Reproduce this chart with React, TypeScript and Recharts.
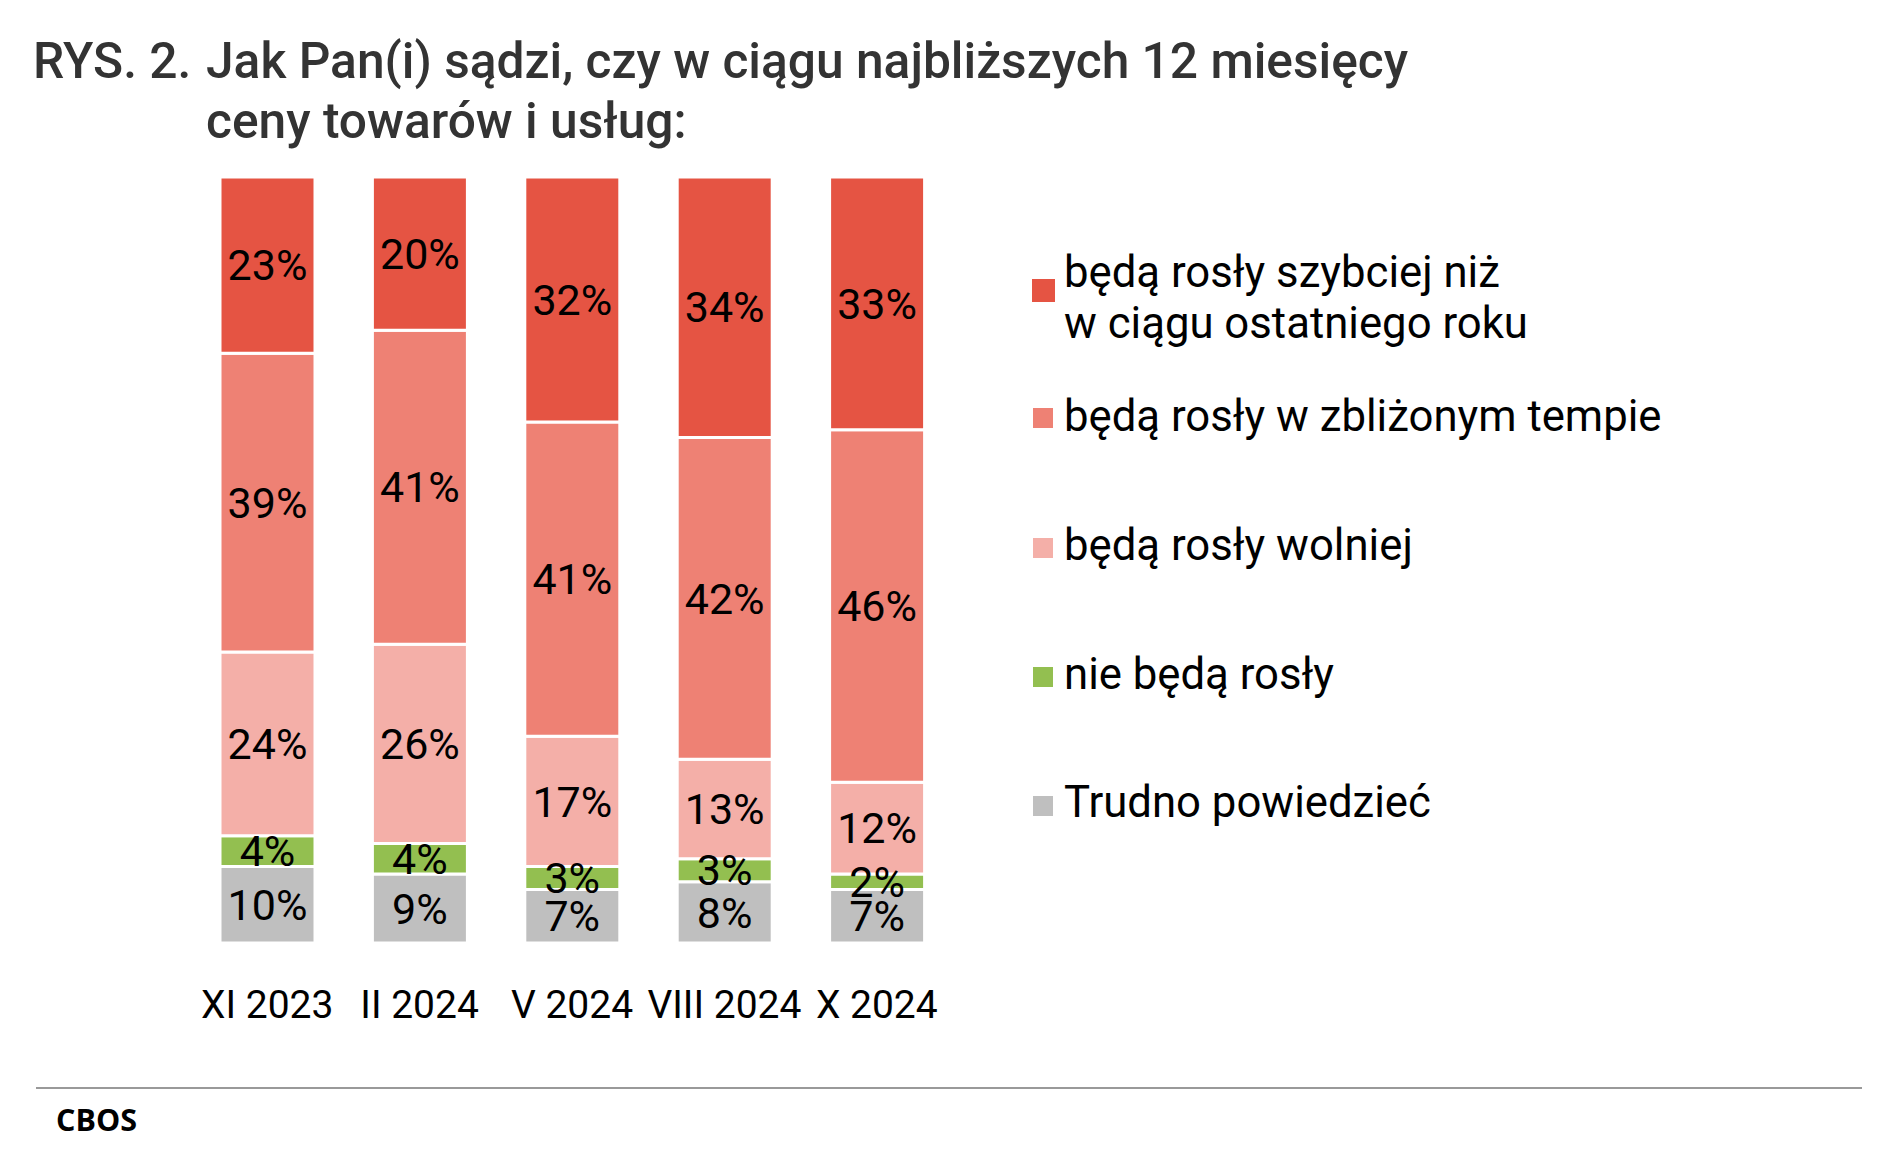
import React from "react";
import { BarChart, Bar, XAxis, YAxis, LabelList } from "recharts";

const categories = ["XI 2023", "II 2024", "V 2024", "VIII 2024", "X 2024"];
const fasterValues = [23, 20, 32, 34, 33];
const similarValues = [39, 41, 41, 42, 46];
const slowerValues = [24, 26, 17, 13, 12];
const notRiseValues = [4, 4, 3, 3, 2];
const hardToSayValues = [10, 9, 7, 8, 7];

// legend order (top to bottom)
const series = [
  { key: "faster", lines: ["będą rosły szybciej niż", "w ciągu ostatniego roku"], color: "#E55443" },
  { key: "similar", lines: ["będą rosły w zbliżonym tempie"], color: "#EE8174" },
  { key: "slower", lines: ["będą rosły wolniej"], color: "#F4AFA8" },
  { key: "notRise", lines: ["nie będą rosły"], color: "#93BF50" },
  { key: "hardToSay", lines: ["Trudno powiedzieć"], color: "#BFBFBF" },
];

const data = categories.map((name, i) => ({
  name,
  faster: fasterValues[i],
  similar: similarValues[i],
  slower: slowerValues[i],
  notRise: notRiseValues[i],
  hardToSay: hardToSayValues[i],
}));

// stacking order, bottom first
const stackOrder = ["hardToSay", "notRise", "slower", "similar", "faster"];

const legendBaselines = [287, 431, 560, 689, 817];
const squareCenters = [290, 418, 548, 677, 806];

const font = "Roboto, 'Noto Sans', sans-serif";

function AxisTick(props: any) {
  const { x, y, payload } = props;
  return (
    <text x={x} y={y + 75} textAnchor="middle" fontSize={39} fontFamily={font} fill="#000">
      {payload.value}
    </text>
  );
}

export default function App() {
  return (
    <div
      style={{
        position: "absolute",
        left: 0,
        top: 0,
        width: 1891,
        height: 1149,
        background: "#fff",
        fontFamily: font,
        overflow: "hidden",
      }}
    >
      <div style={{ position: "absolute", left: 33, top: 31, fontSize: 49.7, lineHeight: "60px", fontWeight: 500, color: "#333", whiteSpace: "nowrap" }}>
        RYS. 2.
      </div>
      <div style={{ position: "absolute", left: 206, top: 31, fontSize: 49.7, lineHeight: "60px", fontWeight: 500, color: "#333", whiteSpace: "nowrap" }}>
        Jak Pan(i) sądzi, czy w ciągu najbliższych 12 miesięcy
        <br />
        ceny towarów i usług:
      </div>

      <div style={{ position: "absolute", left: 0, top: 0 }}>
        <BarChart
          width={1891}
          height={1149}
          data={data}
          margin={{ top: 177, right: 938, bottom: 146, left: 191 }}
        >
          <XAxis
            dataKey="name"
            height={60}
            axisLine={false}
            tickLine={false}
            tickSize={0}
            tickMargin={0}
            interval={0}
            tick={<AxisTick />}
          />
          <YAxis hide domain={[0, 100]} />
          {stackOrder.map((key) => {
            const s = series.find((it) => it.key === key)!;
            return (
              <Bar
                key={key}
                dataKey={key}
                stackId="a"
                fill={s.color}
                stroke="#fff"
                strokeWidth={3}
                barSize={95}
                isAnimationActive={false}
              >
                <LabelList
                  dataKey={key}
                  position="center"
                  formatter={(v: any) => `${v}%`}
                  fill="#000"
                  fontSize={43}
                  fontFamily={font}
                />
              </Bar>
            );
          })}
        </BarChart>
      </div>

      {series.map((s, i) => (
        <React.Fragment key={s.key}>
          <div
            style={{
              position: "absolute",
              left: i === 0 ? 1032 : 1033,
              top: squareCenters[i] - (i === 0 ? 11.5 : 10),
              width: i === 0 ? 23 : 20,
              height: i === 0 ? 23 : 20,
              background: s.color,
            }}
          />
          <div
            style={{
              position: "absolute",
              left: 1064,
              top: legendBaselines[i] - 40.3,
              fontSize: 43.7,
              lineHeight: "51px",
              color: "#000",
              whiteSpace: "nowrap",
            }}
          >
            {s.lines.map((l, j) => (
              <div key={j}>{l}</div>
            ))}
          </div>
        </React.Fragment>
      ))}

      <div style={{ position: "absolute", left: 36, top: 1087, width: 1826, height: 2, background: "#999" }} />
      <div
        style={{
          position: "absolute",
          left: 56,
          top: 1099,
          fontFamily: "'Open Sans', sans-serif",
          fontWeight: 700,
          fontSize: 30.5,
          lineHeight: "40px",
          color: "#000",
        }}
      >
        CBOS
      </div>
    </div>
  );
}
